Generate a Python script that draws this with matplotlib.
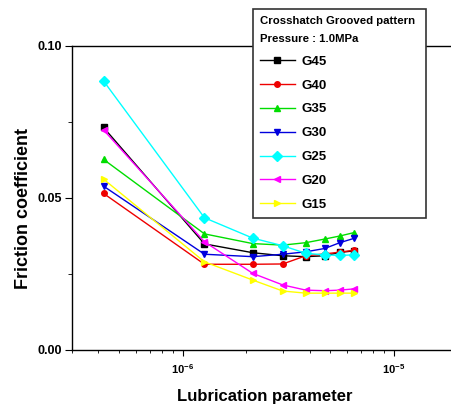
import matplotlib
matplotlib.use("Agg")
import matplotlib.pyplot as plt
from matplotlib.ticker import FixedLocator, LogLocator, NullFormatter

plt.rcParams['font.family'] = ['Liberation Sans', 'DejaVu Sans']

# lubrication parameter (x) shared by all series
lub = [4.23e-7, 1.27e-6, 2.15e-6, 2.98e-6, 3.83e-6, 4.71e-6, 5.55e-6, 6.46e-6]

g45 = [0.0732, 0.0349, 0.0320, 0.0310, 0.0307, 0.0310, 0.0321, 0.0326]
g40 = [0.0515, 0.0282, 0.0282, 0.0283, 0.0310, 0.0316, 0.0322, 0.0328]
g35 = [0.0627, 0.0382, 0.0350, 0.0345, 0.0353, 0.0365, 0.0375, 0.0386]
g30 = [0.0539, 0.0315, 0.0307, 0.0315, 0.0323, 0.0334, 0.0353, 0.0367]
g25 = [0.0885, 0.0435, 0.0368, 0.0343, 0.0318, 0.0313, 0.0311, 0.0313]
g20 = [0.0724, 0.0356, 0.0252, 0.0214, 0.0197, 0.0195, 0.0197, 0.0201]
g15 = [0.0562, 0.0290, 0.0230, 0.0194, 0.0187, 0.0187, 0.0187, 0.0187]

names = ['G45', 'G40', 'G35', 'G30', 'G25', 'G20', 'G15']
series = [g45, g40, g35, g30, g25, g20, g15]
colors = ['black', '#ee0000', '#00dd00', '#0000dd', '#00ffff', '#ff00ff', '#ffff00']
markers = ['s', 'o', '^', 'v', 'D', '<', '>']

fig = plt.figure(figsize=(4.52, 4.07), dpi=100)
ax = fig.add_axes([72 / 452, 57 / 407, 385.5 / 452, 304 / 407])

for y, name, c, m in zip(series, names, colors, markers):
    ax.plot(lub, y, color=c, lw=1.0, marker=m, markersize=5 if m != 'o' else 4,
            markeredgecolor=c, label=name)

ax.set_xscale('log')
ax.set_xlim(3e-7, 2e-5)
ax.set_ylim(0, 0.10)
ax.xaxis.set_major_locator(FixedLocator([1e-6, 1e-5]))
ax.xaxis.set_minor_locator(LogLocator(base=10, subs=range(2, 10), numticks=20))
ax.xaxis.set_minor_formatter(NullFormatter())
ax.set_yticks([0.0, 0.05, 0.10])
ax.set_yticklabels(['0.00', '0.05', '0.10'], fontweight='bold', fontsize=9)
ax.set_yticks([0.025, 0.075], minor=True)
ax.tick_params(axis='x', which='major', labelsize=8, length=4, width=0.8, pad=5)
ax.tick_params(axis='x', which='minor', length=2.5, width=0.6)
ax.tick_params(axis='y', which='major', length=5, width=0.8, pad=2)
ax.tick_params(axis='y', which='minor', length=3, width=0.6)
for lab in ax.get_xticklabels():
    lab.set_fontweight('bold')
for s in ax.spines.values():
    s.set_linewidth(1.0)

ax.set_xlabel('Lubrication parameter', fontsize=12, fontweight='bold', labelpad=9)
ax.set_ylabel('Friction coefficient', fontsize=13, fontweight='bold')
ax.yaxis.set_label_coords(-0.104, 0.464)

leg = fig.legend(loc='upper left', bbox_to_anchor=(253 / 452, 1 - 8.7 / 407, 173 / 452, 0),
                 mode='expand',
                 title='Crosshatch Grooved pattern\nPressure : 1.0MPa',
                 title_fontproperties={'size': 8.2, 'weight': 'bold'},
                 prop={'size': 9.5, 'weight': 'bold'}, frameon=True, fancybox=False,
                 edgecolor='#333333', framealpha=1, handlelength=2.6,
                 labelspacing=0.88, borderpad=0.55, handletextpad=0.5,
                 borderaxespad=0)
leg._legend_box.align = 'left'
leg.get_frame().set_linewidth(1.2)
leg.get_title().set_linespacing(2.0)
leg.set_zorder(10)

fig.savefig('out.png', dpi=100)
